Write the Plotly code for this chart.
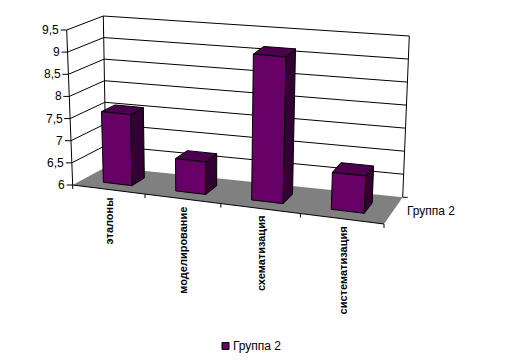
import plotly.graph_objects as go
import numpy as np

# ---- data ----
categories = ["эталоны", "моделирование", "схематизация", "систематизация"]
series_name = "Группа 2"
values = [7.6, 6.72, 9.2, 6.8]
y_ticks = [6, 6.5, 7, 7.5, 8, 8.5, 9, 9.5]
y_labels = ["6", "6,5", "7", "7,5", "8", "8,5", "9", "9,5"]
y_min, y_max = 6, 9.5

# ---- oblique view of the chart box (pixel axes of the figure) ----
W, H = 505, 363
FLB, FRB = (72.7, 185.0), (384.0, 224.0)   # front bottom
BLB, BRB = (106.0, 167.0), (402.7, 197.3)  # back bottom
FLT, FRT = (66.7, 30.0), (392.0, 59.0)     # front top
BLT, BRT = (103.3, 16.0), (409.3, 36.0)    # back top
PERSP_U, PERSP_W = 0.908, 0.95
BAR_FROM, BAR_TO = 0.3, 0.7

FRONT, SIDE, TOP, FLOOR = "#660066", "#330033", "#4d004d", "#808080"
FONT = "Liberation Sans"


def warp(t, a):
    return a * t / (1 + (a - 1) * t)


def proj(cat, val, depth):
    """cat in 0..n, val in data units, depth in 0..1 -> figure axis coordinates."""
    u = warp(cat / len(categories), PERSP_U)
    w = warp(depth, PERSP_W)
    v = (val - y_min) / (y_max - y_min)
    pts = np.array([FLB, FRB, BLB, BRB, FLT, FRT, BLT, BRT])
    wt = np.array([(1-u)*(1-w)*(1-v), u*(1-w)*(1-v), (1-u)*w*(1-v), u*w*(1-v),
                   (1-u)*(1-w)*v, u*(1-w)*v, (1-u)*w*v, u*w*v])
    return tuple(wt @ pts)


fig = go.Figure()


def poly(points, fill=None, line="black"):
    xs = [p[0] for p in points]
    ys = [p[1] for p in points]
    if fill:
        xs.append(xs[0]); ys.append(ys[0])
    fig.add_trace(go.Scatter(
        x=xs, y=ys, mode="lines" if line else "none",
        fill="toself" if fill else None, fillcolor=fill,
        line=dict(color=line or fill, width=1),
        hoverinfo="skip", showlegend=False))


n = len(categories)
# floor
poly([proj(0, y_min, 0), proj(n, y_min, 0), proj(n, y_min, 1), proj(0, y_min, 1)],
     fill=FLOOR, line=None)
# walls and gridlines
for t in y_ticks:
    if t > y_min:
        poly([proj(0, t, 0), proj(0, t, 1), proj(n, t, 1)])
poly([proj(0, y_min, 0), proj(0, y_max, 0)])
poly([proj(0, y_min, 1), proj(0, y_max, 1)])
poly([proj(n, y_min, 1), proj(n, y_max, 1)])
# front axis and ticks
poly([proj(0, y_min, 0), proj(n, y_min, 0)])
for i in range(n + 1):
    x, y = proj(i, y_min, 0)
    poly([(x, y), (x, y + 4)])
for t in y_ticks:
    x, y = proj(0, t, 0)
    poly([(x - 6, y), (x, y)])
x, y = proj(n, y_min, 1)
poly([(x, y), (x + 5, y)])

# bars
for i, val in enumerate(values):
    a, b = i + BAR_FROM, i + BAR_TO
    d0, d1 = BAR_FROM, BAR_TO
    poly([proj(b, y_min, d0), proj(b, y_min, d1), proj(b, val, d1), proj(b, val, d0)], fill=SIDE)
    poly([proj(a, val, d0), proj(b, val, d0), proj(b, val, d1), proj(a, val, d1)], fill=TOP)
    poly([proj(a, y_min, d0), proj(b, y_min, d0), proj(b, val, d0), proj(a, val, d0)], fill=FRONT)

# legend key
fig.add_trace(go.Scatter(
    x=[225.5], y=[346], mode="markers", name=series_name, hoverinfo="skip", showlegend=False,
    marker=dict(symbol="square", size=7, color=FRONT, line=dict(color="black", width=1))))

ann = []
for t, lab in zip(y_ticks, y_labels):
    x, y = proj(0, t, 0)
    ann.append(dict(x=x - 7.5, y=y, text=lab, xanchor="right", yanchor="middle",
                    showarrow=False, font=dict(family=FONT, size=12, color="black")))
for i, c in enumerate(categories):
    x, y = proj(i + 0.5, y_min, 0)
    ann.append(dict(x=x + 1, y=y + 8, text=c, textangle=-90, xanchor="center", yanchor="top",
                    showarrow=False, font=dict(family=FONT, size=11, weight="bold", color="black")))
x, y = proj(n, y_min, 0.5)
ann.append(dict(x=x + 14, y=y, text=series_name, xanchor="left", yanchor="middle",
                showarrow=False, font=dict(family=FONT, size=12, color="black")))
ann.append(dict(x=232.5, y=346, text=series_name, xanchor="left", yanchor="middle",
                showarrow=False, font=dict(family=FONT, size=12, color="black")))
for a in ann:
    a.update(borderpad=0, borderwidth=0)

fig.update_layout(
    width=W, height=H, margin=dict(l=0, r=0, t=0, b=0),
    paper_bgcolor="white", plot_bgcolor="white",
    xaxis=dict(range=[0, W], visible=False, fixedrange=True),
    yaxis=dict(range=[H, 0], visible=False, fixedrange=True),
    annotations=ann, showlegend=False,
)
fig.write_html("out.html", config={"displayModeBar": False},
               post_script="document.body.style.margin='0';document.documentElement.style.overflow='hidden';")
